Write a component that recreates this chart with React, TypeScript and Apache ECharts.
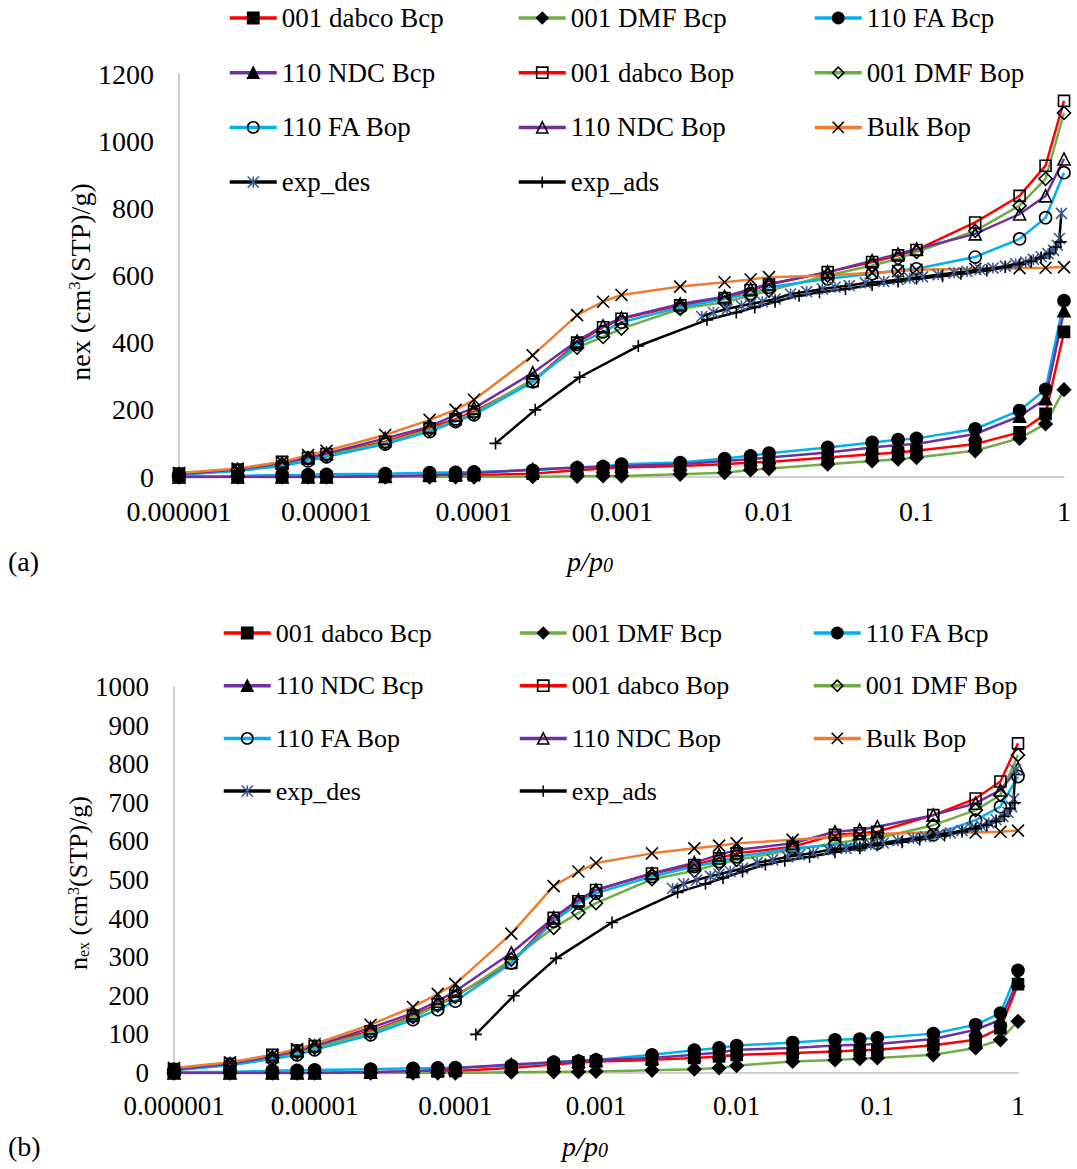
import React, { useEffect, useRef } from "react";
import * as echarts from "echarts";

// ---------- data ----------
const pressures = [
  1e-6, 2.5e-6, 5e-6, 7.5e-6, 1e-5, 2.5e-5, 5e-5, 7.5e-5, 1e-4, 2.5e-4, 5e-4, 7.5e-4,
  1e-3, 2.5e-3, 5e-3, 7.5e-3, 0.01, 0.025, 0.05, 0.075, 0.1, 0.25, 0.5, 0.75, 1,
];
const xTickLabels = ["0.000001", "0.00001", "0.0001", "0.001", "0.01", "0.1", "1"];

// panel (a)
const aDabcoBcp = [0, 0, 0, 0, 0, 2, 3, 4, 5, 10, 20, 25, 28, 33, 38, 43, 45, 58, 68, 73, 78, 98, 133, 188, 432];
const aDmfBcp = [0, 0, 0, 0, 0, 0, 0, 0, 0, 1, 2, 3, 3, 8, 13, 21, 25, 38, 48, 53, 58, 78, 115, 158, 260];
const aFaBcp = [2, 3, 6, 7, 8, 10, 13, 14, 15, 20, 28, 31, 38, 43, 55, 63, 71, 88, 103, 111, 115, 143, 198, 261, 525];
const aNdcBcp = [0, 0, 0, 0, 0, 2, 5, 8, 12, 22, 28, 31, 33, 38, 48, 53, 58, 73, 88, 95, 98, 128, 181, 233, 495];
const aDabcoBop = [10, 22, 45, 57, 68, 105, 145, 172, 195, 285, 400, 446, 471, 511, 533, 556, 573, 610, 640, 660, 676, 758, 837, 927, 1120];
const aDmfBop = [8, 20, 38, 55, 65, 102, 140, 168, 190, 290, 385, 417, 442, 501, 520, 540, 555, 600, 630, 650, 670, 733, 808, 888, 1084];
const aFaBop = [7, 18, 33, 48, 60, 98, 135, 165, 185, 283, 395, 432, 461, 505, 530, 546, 565, 590, 605, 615, 620, 655, 709, 772, 906];
const aNdcBop = [9, 22, 42, 57, 70, 115, 150, 185, 205, 310, 405, 450, 473, 515, 537, 560, 575, 610, 644, 664, 679, 724, 783, 837, 947];
const aBulkBop = [12, 25, 45, 65, 78, 125, 170, 200, 230, 362, 482, 522, 542, 567, 580, 588, 595, 600, 608, 613, 617, 620, 622, 623, 625];

// panel (b)
const bDabcoBcp = [0, 0, 0, 0, 0, 2, 3, 4, 5, 13, 22, 27, 30, 34, 39, 43, 47, 52, 56, 59, 60, 72, 86, 116, 230];
const bDmfBcp = [0, 0, 0, 0, 0, 0, 0, 0, 0, 2, 3, 3, 4, 7, 10, 13, 19, 30, 34, 37, 39, 47, 65, 86, 134];
const bFaBcp = [2, 3, 6, 7, 8, 10, 12, 13, 14, 19, 28, 31, 34, 47, 59, 65, 71, 79, 86, 88, 91, 102, 125, 155, 266];
const bNdcBcp = [0, 0, 0, 0, 0, 2, 5, 8, 12, 22, 28, 31, 34, 39, 47, 53, 60, 65, 71, 73, 75, 88, 112, 138, 240];
const bDabcoBop = [10, 24, 47, 58, 70, 108, 148, 178, 200, 285, 402, 445, 474, 517, 539, 556, 569, 586, 617, 621, 625, 668, 711, 755, 854];
const bDmfBop = [8, 22, 40, 53, 66, 105, 145, 175, 197, 294, 376, 415, 440, 502, 524, 542, 552, 578, 595, 604, 608, 642, 681, 720, 824];
const bFaBop = [7, 20, 36, 47, 60, 99, 138, 164, 186, 285, 393, 440, 466, 509, 535, 548, 560, 582, 591, 591, 595, 617, 655, 690, 768];
const bNdcBop = [9, 24, 43, 57, 70, 117, 155, 186, 212, 311, 402, 449, 474, 517, 545, 565, 578, 595, 625, 630, 638, 668, 699, 733, 789];
const bBulkBop = [13, 28, 47, 62, 75, 125, 171, 205, 231, 361, 484, 522, 544, 569, 582, 589, 595, 604, 612, 617, 619, 624, 623, 625, 628];

// experiment (same in both panels)
const expAdsP = [1.4e-4, 2.6e-4, 5.2e-4, 1.3e-3, 3.8e-3, 6e-3, 8e-3, 0.011, 0.016, 0.022, 0.033, 0.05, 0.075, 0.1, 0.15, 0.2, 0.3, 0.4, 0.5, 0.6, 0.7, 0.8, 0.88, 0.95];
const expAdsN = [100, 200, 297, 390, 468, 490, 505, 522, 540, 550, 560, 572, 582, 590, 598, 605, 615, 625, 633, 642, 652, 665, 685, 700];
const expDesP = [0.96, 0.93, 0.9, 0.85, 0.78, 0.7, 0.62, 0.55, 0.47, 0.4, 0.33, 0.27, 0.22, 0.18, 0.14, 0.11, 0.09, 0.075, 0.06, 0.045, 0.035, 0.028, 0.023, 0.018, 0.014, 0.011, 9e-3, 7.5e-3, 6.5e-3, 5.2e-3, 4.2e-3, 3.5e-3];
const expDesN = [785, 710, 690, 675, 665, 656, 648, 640, 635, 628, 622, 618, 612, 608, 602, 596, 592, 588, 582, 578, 570, 565, 560, 552, 545, 530, 522, 515, 510, 500, 490, 478];

const seriesNames = [
  "001 dabco Bcp", "001 DMF Bcp", "110 FA Bcp", "110 NDC Bcp",
  "001 dabco Bop", "001 DMF Bop", "110 FA Bop", "110 NDC Bop", "Bulk Bop",
];
const panelA = [aDabcoBcp, aDmfBcp, aFaBcp, aNdcBcp, aDabcoBop, aDmfBop, aFaBop, aNdcBop, aBulkBop];
const panelB = [bDabcoBcp, bDmfBcp, bFaBcp, bNdcBcp, bDabcoBop, bDmfBop, bFaBop, bNdcBop, bBulkBop];

// ---------- styles ----------
const X_PATH = "path://M0,0L10,10M10,0L0,10";
const STAR_PATH = "path://M5,0L5,10M0,0L10,10M10,0L0,10";
const PLUS_PATH = "path://M5,0L5,10M0,5L10,5";
const styleOf: Record<string, any> = {
  "001 dabco Bcp": { line: "#FF0000", symbol: "rect", fill: "#000", size: 11 },
  "001 DMF Bcp": { line: "#70AD47", symbol: "diamond", fill: "#000", size: 13 },
  "110 FA Bcp": { line: "#00B0F0", symbol: "circle", fill: "#000", size: 12 },
  "110 NDC Bcp": { line: "#7030A0", symbol: "triangle", fill: "#000", size: 12 },
  "001 dabco Bop": { line: "#FF0000", symbol: "rect", fill: "none", size: 11 },
  "001 DMF Bop": { line: "#70AD47", symbol: "diamond", fill: "none", size: 13 },
  "110 FA Bop": { line: "#00B0F0", symbol: "circle", fill: "none", size: 12 },
  "110 NDC Bop": { line: "#7030A0", symbol: "triangle", fill: "none", size: 12 },
  "Bulk Bop": { line: "#ED7D31", symbol: X_PATH, fill: "none", size: 12 },
  exp_des: { line: "#000000", symbol: STAR_PATH, fill: "none", size: 11, border: "#3B5B92" },
  exp_ads: { line: "#000000", symbol: PLUS_PATH, fill: "none", size: 12 },
};

const FONT = "'Liberation Serif', 'Times New Roman', serif";

function mkSeries(name: string, data: number[][], idx: number) {
  const s = styleOf[name];
  const isExp = name.startsWith("exp");
  return {
    type: "line",
    name,
    xAxisIndex: idx,
    yAxisIndex: idx,
    data,
    symbol: s.symbol,
    symbolSize: s.size,
    showAllSymbol: true,
    lineStyle: { color: s.line, width: 2.5 },
    itemStyle: { color: s.fill, borderColor: s.border || "#000", borderWidth: 1.6 },
    emphasis: { disabled: true },
    z: isExp ? 4 : 3,
  };
}

function App() {
  const ref = useRef<HTMLDivElement>(null);
  useEffect(() => {
    if (!ref.current) return;
    const chart = echarts.init(ref.current, undefined, { renderer: "svg" });

    const series: any[] = [];
    [panelA, panelB].forEach((panel, idx) => {
      panel.forEach((vals, i) => {
        series.push(mkSeries(seriesNames[i], pressures.map((p, k) => [p, vals[k]]), idx));
      });
      series.push(mkSeries("exp_des", expDesP.map((p, k) => [p, expDesN[k]]), idx));
      series.push(mkSeries("exp_ads", expAdsP.map((p, k) => [p, expAdsN[k]]), idx));
    });

    const columns = [
      ["001 dabco Bcp", "110 NDC Bcp", "110 FA Bop", "exp_des"],
      ["001 DMF Bcp", "001 dabco Bop", "110 NDC Bop", "exp_ads"],
      ["110 FA Bcp", "001 DMF Bop", "Bulk Bop"],
    ];
    const legendSpecs = [
      { lefts: [228, 517, 813], top: 3, gap: 24.7, fs: 27 },
      { lefts: [222, 518, 812], top: 618, gap: 22.7, fs: 26 },
    ];
    const legends: any[] = [];
    legendSpecs.forEach((ls) => {
      columns.forEach((col, c) => {
        legends.push({
          orient: "vertical",
          left: ls.lefts[c],
          top: ls.top,
          itemGap: ls.gap,
          itemWidth: 47,
          itemHeight: 14,
          selectedMode: false,
          padding: 0,
          data: col,
          lineStyle: { width: 3.5 },
          itemStyle: { borderWidth: 1.6 },
          textStyle: { fontFamily: FONT, fontSize: ls.fs, color: "#000", lineHeight: 30 },
        });
      });
    });

    const axisLineStyle = { show: true, lineStyle: { color: "#BFBFBF", width: 1.5 } };
    const mkX = (idx: number, fs: number, margin: number) => ({
      type: "log",
      logBase: 10,
      gridIndex: idx,
      min: 1e-6,
      max: 1,
      axisLine: axisLineStyle,
      axisTick: { show: false },
      splitLine: { show: false },
      minorTick: { show: false },
      axisLabel: {
        fontFamily: FONT,
        fontSize: fs,
        color: "#000",
        margin,
        formatter: (v: number) => xTickLabels[Math.round(Math.log10(v)) + 6] ?? "",
      },
    });
    const mkY = (idx: number, max: number, interval: number, fs: number, margin: number) => ({
      type: "value",
      gridIndex: idx,
      min: 0,
      max,
      interval,
      axisLine: axisLineStyle,
      axisTick: { show: false },
      splitLine: { show: false },
      axisLabel: {
        fontFamily: FONT,
        fontSize: fs,
        color: "#000",
        margin,
        formatter: (v: number) => String(v),
      },
    });

    const titleRich = (fs: number) => ({
      a: { fontFamily: FONT, fontSize: fs, color: "#000" },
      sup: { fontFamily: FONT, fontSize: Math.round(fs * 0.6), verticalAlign: "top", color: "#000" },
      sub: { fontFamily: FONT, fontSize: Math.round(fs * 0.6), verticalAlign: "bottom", color: "#000" },
      i: { fontFamily: FONT, fontSize: fs, fontStyle: "italic", color: "#000" },
      isub: { fontFamily: FONT, fontSize: Math.round(fs * 0.7), fontStyle: "italic", verticalAlign: "bottom", color: "#000" },
    });

    chart.setOption({
      animation: false,
      backgroundColor: "#fff",
      grid: [
        { left: 179, right: 13, top: 74, height: 403 },
        { left: 174, right: 59, top: 687, height: 386 },
      ],
      xAxis: [mkX(0, 28, 20), mkX(1, 27, 19)],
      yAxis: [mkY(0, 1200, 200, 28, 25), mkY(1, 1000, 100, 27, 25)],
      legend: legends,
      series,
      graphic: [
        {
          type: "text",
          x: 80,
          y: 282,
          rotation: Math.PI / 2,
          style: {
            text: "{a|nex (cm}{sup|3}{a|(STP)/g)}",
            rich: titleRich(28),
            align: "center",
            verticalAlign: "middle",
          },
        },
        {
          type: "text",
          x: 78,
          y: 883,
          rotation: Math.PI / 2,
          style: {
            text: "{a|n}{sub|ex}{a| (cm}{sup|3}{a|(STP)/g)}",
            rich: titleRich(26),
            align: "center",
            verticalAlign: "middle",
          },
        },
        {
          type: "text",
          x: 590,
          y: 561,
          style: { text: "{i|p/p}{isub|0}", rich: titleRich(28), align: "center", verticalAlign: "middle" },
        },
        {
          type: "text",
          x: 585,
          y: 1146,
          style: { text: "{i|p/p}{isub|0}", rich: titleRich(28), align: "center", verticalAlign: "middle" },
        },
        {
          type: "text",
          x: 8,
          y: 561,
          style: { text: "(a)", fontFamily: FONT, fontSize: 28, fill: "#000", verticalAlign: "middle" },
        },
        {
          type: "text",
          x: 8,
          y: 1146,
          style: { text: "(b)", fontFamily: FONT, fontSize: 28, fill: "#000", verticalAlign: "middle" },
        },
      ],
    });
    return () => chart.dispose();
  }, []);
  return (
    <div
      ref={ref}
      style={{ position: "absolute", left: 0, top: 0, width: 1077, height: 1169, background: "#fff" }}
    />
  );
}

export default App;
